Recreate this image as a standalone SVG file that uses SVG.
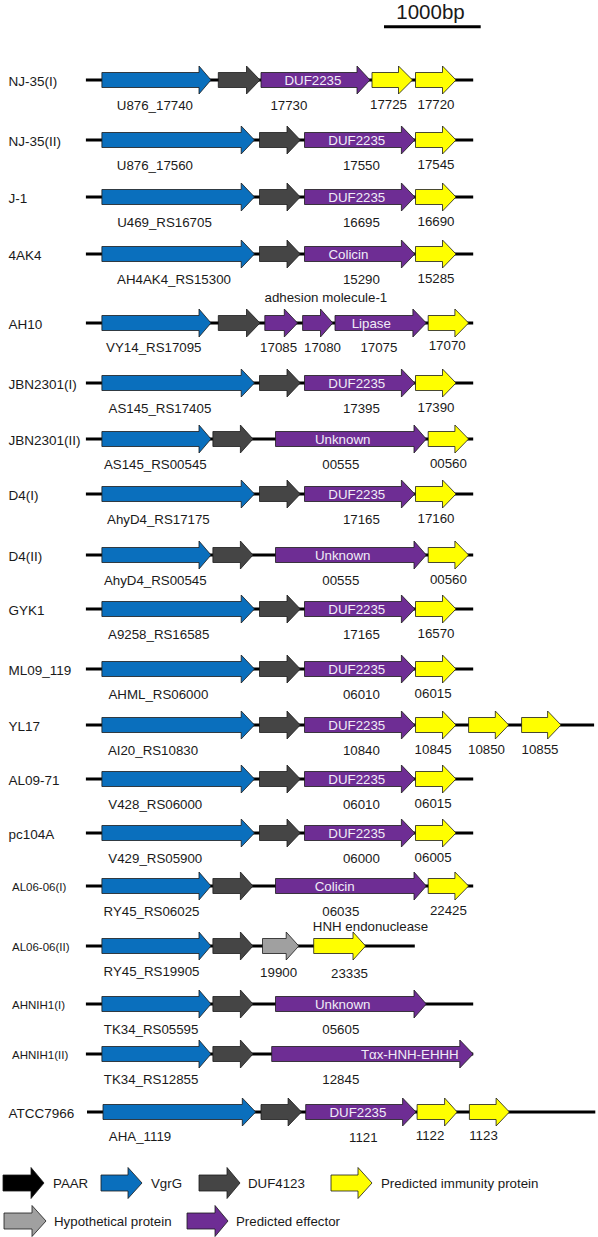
<svg xmlns="http://www.w3.org/2000/svg" width="598" height="1237" viewBox="0 0 598 1237">
<style>
text{font-family:"Liberation Sans",Arial,sans-serif;fill:#1a1a1a}
.rl{font-size:13.5px}
.lg{font-size:13.3px}
.sl{font-size:11.5px}
.gl{font-size:13.3px;text-anchor:middle}
.in{font-size:13.3px;text-anchor:middle;fill:#f1ecf7}
.bb{stroke:#000;stroke-width:3;fill:none}
path{stroke:#1a1a1a;stroke-width:0.8}
.b{fill:#0a6fbd}
.g{fill:#454545}
.p{fill:#6e2d94}
.y{fill:#ffff00}
.h{fill:#a0a0a0}
.k{fill:#000}
</style>
<g id="scalebar">
<line x1="384" y1="26.7" x2="480.7" y2="26.7" stroke="#000" stroke-width="3"/>
<text x="430.5" y="18.8" style="font-size:20.5px;text-anchor:middle">1000bp</text>
</g>
<g id="backbones">
<line class="bb" x1="85.9" y1="80" x2="473.2" y2="80"/>
<line class="bb" x1="85.9" y1="140" x2="473.2" y2="140"/>
<line class="bb" x1="85.9" y1="197" x2="473.2" y2="197"/>
<line class="bb" x1="85.9" y1="254" x2="473.2" y2="254"/>
<line class="bb" x1="85.9" y1="323" x2="473.2" y2="323"/>
<line class="bb" x1="85.9" y1="383" x2="473.2" y2="383"/>
<line class="bb" x1="85.9" y1="439" x2="473.2" y2="439"/>
<line class="bb" x1="85.9" y1="494" x2="473.2" y2="494"/>
<line class="bb" x1="85.9" y1="555" x2="473.2" y2="555"/>
<line class="bb" x1="85.9" y1="609" x2="473.2" y2="609"/>
<line class="bb" x1="85.9" y1="669" x2="473.2" y2="669"/>
<line class="bb" x1="85.9" y1="725" x2="594.1" y2="725"/>
<line class="bb" x1="85.9" y1="779" x2="473.2" y2="779"/>
<line class="bb" x1="85.9" y1="833" x2="473.2" y2="833"/>
<line class="bb" x1="85.9" y1="886" x2="473.2" y2="886"/>
<line class="bb" x1="85.9" y1="946" x2="414.8" y2="946"/>
<line class="bb" x1="85.9" y1="1004" x2="473.2" y2="1004"/>
<line class="bb" x1="85.9" y1="1054" x2="473.2" y2="1054"/>
<line class="bb" x1="87" y1="1112" x2="595.3" y2="1112"/>
</g>

<g id="row-NJ-35-I" transform="translate(0,80)">
<text class="rl" x="8.5" y="6">NJ-35(I)</text>
<path class="b" d="M101.9 -7.5H199V-14L211 0L199 14V7.5H101.9Z"/>
<path class="g" d="M218.3 -7.5H246.5V-14L260 0L246.5 14V7.5H218.3Z"/>
<path class="p" d="M261 -7.5H357V-14L370 0L357 14V7.5H261Z"/>
<path class="y" d="M372 -7.5H398.5V-14L412.5 0L398.5 14V7.5H372Z"/>
<path class="y" d="M415.5 -7.5H442.5V-14L456 0L442.5 14V7.5H415.5Z"/>
<text class="in" x="312.9" y="5">DUF2235</text>
<text class="gl" x="154.9" y="30">U876_17740</text>
<text class="gl" x="288.9" y="30">17730</text>
<text class="gl" x="388.5" y="29">17725</text>
<text class="gl" x="436" y="29">17720</text>
</g>

<g id="row-NJ-35-II" transform="translate(0,140)">
<text class="rl" x="8.5" y="6">NJ-35(II)</text>
<path class="b" d="M101.9 -7.5H241.2V-14L254.5 0L241.2 14V7.5H101.9Z"/>
<path class="g" d="M259.5 -7.5H287V-14L300.3 0L287 14V7.5H259.5Z"/>
<path class="p" d="M304.5 -7.5H401.4V-14L414.8 0L401.4 14V7.5H304.5Z"/>
<path class="y" d="M415.5 -7.5H442.5V-14L456 0L442.5 14V7.5H415.5Z"/>
<text class="in" x="356.8" y="5">DUF2235</text>
<text class="gl" x="154.9" y="30">U876_17560</text>
<text class="gl" x="361.4" y="30">17550</text>
<text class="gl" x="436" y="29">17545</text>
</g>

<g id="row-J-1" transform="translate(0,197)">
<text class="rl" x="8.5" y="6">J-1</text>
<path class="b" d="M101.9 -7.5H241.2V-14L254.5 0L241.2 14V7.5H101.9Z"/>
<path class="g" d="M259.5 -7.5H287V-14L300.3 0L287 14V7.5H259.5Z"/>
<path class="p" d="M304.5 -7.5H401.4V-14L414.8 0L401.4 14V7.5H304.5Z"/>
<path class="y" d="M415.5 -7.5H442.5V-14L456 0L442.5 14V7.5H415.5Z"/>
<text class="in" x="356.8" y="5">DUF2235</text>
<text class="gl" x="164.5" y="30">U469_RS16705</text>
<text class="gl" x="361.4" y="30">16695</text>
<text class="gl" x="436" y="29">16690</text>
</g>

<g id="row-4AK4" transform="translate(0,254)">
<text class="rl" x="8.5" y="6">4AK4</text>
<path class="b" d="M101.9 -7.5H241.2V-14L254.5 0L241.2 14V7.5H101.9Z"/>
<path class="g" d="M259.5 -7.5H287V-14L300.3 0L287 14V7.5H259.5Z"/>
<path class="p" d="M304.5 -7.5H401.4V-14L414.8 0L401.4 14V7.5H304.5Z"/>
<path class="y" d="M415.5 -7.5H442.5V-14L456 0L442.5 14V7.5H415.5Z"/>
<text class="in" x="348.4" y="5">Colicin</text>
<text class="gl" x="174" y="30">AH4AK4_RS15300</text>
<text class="gl" x="361.4" y="30">15290</text>
<text class="gl" x="436" y="29">15285</text>
</g>

<g id="row-AH10" transform="translate(0,323)">
<text class="rl" x="8.5" y="6">AH10</text>
<text class="gl" x="325.9" y="-21">adhesion molecule-1</text>
<path class="b" d="M101.9 -7.5H199V-14L211 0L199 14V7.5H101.9Z"/>
<path class="g" d="M218.3 -7.5H246.5V-14L260 0L246.5 14V7.5H218.3Z"/>
<path class="p" d="M264.8 -7.5H284.3V-14L297.6 0L284.3 14V7.5H264.8Z"/>
<path class="p" d="M302.6 -7.5H320.5V-14L332.8 0L320.5 14V7.5H302.6Z"/>
<path class="p" d="M335 -7.5H412.9V-14L426.3 0L412.9 14V7.5H335Z"/>
<path class="y" d="M428.2 -7.5H454.9V-14L468.6 0L454.9 14V7.5H428.2Z"/>
<text class="in" x="371.3" y="5">Lipase</text>
<text class="gl" x="153.8" y="29">VY14_RS17095</text>
<text class="gl" x="278.6" y="29">17085</text>
<text class="gl" x="322.5" y="29">17080</text>
<text class="gl" x="378.9" y="29">17075</text>
<text class="gl" x="447.2" y="27">17070</text>
</g>

<g id="row-JBN2301-I" transform="translate(0,383)">
<text class="rl" x="8.5" y="6">JBN2301(I)</text>
<path class="b" d="M101.9 -7.5H241.2V-14L254.5 0L241.2 14V7.5H101.9Z"/>
<path class="g" d="M259.5 -7.5H287V-14L300.3 0L287 14V7.5H259.5Z"/>
<path class="p" d="M304.5 -7.5H401.4V-14L414.8 0L401.4 14V7.5H304.5Z"/>
<path class="y" d="M415.5 -7.5H442.5V-14L456 0L442.5 14V7.5H415.5Z"/>
<text class="in" x="356.8" y="5">DUF2235</text>
<text class="gl" x="159.9" y="30">AS145_RS17405</text>
<text class="gl" x="361.4" y="30">17395</text>
<text class="gl" x="436" y="29">17390</text>
</g>

<g id="row-JBN2301-II" transform="translate(0,439)">
<text class="rl" x="8.5" y="6">JBN2301(II)</text>
<path class="b" d="M101.9 -7.5H199V-14L211 0L199 14V7.5H101.9Z"/>
<path class="g" d="M212.9 -7.5H240.4V-14L253 0L240.4 14V7.5H212.9Z"/>
<path class="p" d="M275.5 -7.5H414V-14L426.3 0L414 14V7.5H275.5Z"/>
<path class="y" d="M428.2 -7.5H454.9V-14L468.6 0L454.9 14V7.5H428.2Z"/>
<text class="in" x="342.7" y="5">Unknown</text>
<text class="gl" x="155.3" y="30">AS145_RS00545</text>
<text class="gl" x="340.8" y="30">00555</text>
<text class="gl" x="448.4" y="29">00560</text>
</g>

<g id="row-D4-I" transform="translate(0,494)">
<text class="rl" x="8.5" y="6">D4(I)</text>
<path class="b" d="M101.9 -7.5H241.2V-14L254.5 0L241.2 14V7.5H101.9Z"/>
<path class="g" d="M259.5 -7.5H287V-14L300.3 0L287 14V7.5H259.5Z"/>
<path class="p" d="M304.5 -7.5H401.4V-14L414.8 0L401.4 14V7.5H304.5Z"/>
<path class="y" d="M415.5 -7.5H442.5V-14L456 0L442.5 14V7.5H415.5Z"/>
<text class="in" x="356.8" y="5">DUF2235</text>
<text class="gl" x="158.4" y="30">AhyD4_RS17175</text>
<text class="gl" x="361.4" y="30">17165</text>
<text class="gl" x="436" y="29">17160</text>
</g>

<g id="row-D4-II" transform="translate(0,555)">
<text class="rl" x="8.5" y="6">D4(II)</text>
<path class="b" d="M101.9 -7.5H199V-14L211 0L199 14V7.5H101.9Z"/>
<path class="g" d="M212.9 -7.5H240.4V-14L253 0L240.4 14V7.5H212.9Z"/>
<path class="p" d="M275.5 -7.5H414V-14L426.3 0L414 14V7.5H275.5Z"/>
<path class="y" d="M428.2 -7.5H454.9V-14L468.6 0L454.9 14V7.5H428.2Z"/>
<text class="in" x="342.7" y="5">Unknown</text>
<text class="gl" x="155.3" y="30">AhyD4_RS00545</text>
<text class="gl" x="340.8" y="30">00555</text>
<text class="gl" x="448.4" y="29">00560</text>
</g>

<g id="row-GYK1" transform="translate(0,609)">
<text class="rl" x="8.5" y="6">GYK1</text>
<path class="b" d="M101.9 -7.5H241.2V-14L254.5 0L241.2 14V7.5H101.9Z"/>
<path class="g" d="M259.5 -7.5H287V-14L300.3 0L287 14V7.5H259.5Z"/>
<path class="p" d="M304.5 -7.5H401.4V-14L414.8 0L401.4 14V7.5H304.5Z"/>
<path class="y" d="M415.5 -7.5H442.5V-14L456 0L442.5 14V7.5H415.5Z"/>
<text class="in" x="356.8" y="5">DUF2235</text>
<text class="gl" x="158.7" y="30">A9258_RS16585</text>
<text class="gl" x="361.4" y="30">17165</text>
<text class="gl" x="436" y="29">16570</text>
</g>

<g id="row-ML09_119" transform="translate(0,669)">
<text class="rl" x="8.5" y="6">ML09_119</text>
<path class="b" d="M101.9 -7.5H241.2V-14L254.5 0L241.2 14V7.5H101.9Z"/>
<path class="g" d="M259.5 -7.5H287V-14L300.3 0L287 14V7.5H259.5Z"/>
<path class="p" d="M304.5 -7.5H401.4V-14L414.8 0L401.4 14V7.5H304.5Z"/>
<path class="y" d="M415.5 -7.5H442.5V-14L456 0L442.5 14V7.5H415.5Z"/>
<text class="in" x="356.8" y="5">DUF2235</text>
<text class="gl" x="158.4" y="30">AHML_RS06000</text>
<text class="gl" x="361.4" y="30">06010</text>
<text class="gl" x="433.1" y="29">06015</text>
</g>

<g id="row-YL17" transform="translate(0,725)">
<text class="rl" x="8.5" y="6">YL17</text>
<path class="b" d="M101.9 -7.5H241.2V-14L254.5 0L241.2 14V7.5H101.9Z"/>
<path class="g" d="M259.5 -7.5H287V-14L300.3 0L287 14V7.5H259.5Z"/>
<path class="p" d="M304.5 -7.5H401.4V-14L414.8 0L401.4 14V7.5H304.5Z"/>
<path class="y" d="M415.5 -7.5H442.5V-14L456 0L442.5 14V7.5H415.5Z"/>
<path class="y" d="M468.6 -7.5H495.3V-14L508.7 0L495.3 14V7.5H468.6Z"/>
<path class="y" d="M521.6 -7.5H547.6V-14L561 0L547.6 14V7.5H521.6Z"/>
<text class="in" x="356.8" y="5">DUF2235</text>
<text class="gl" x="153" y="30">AI20_RS10830</text>
<text class="gl" x="361.4" y="30">10840</text>
<text class="gl" x="433.1" y="29">10845</text>
<text class="gl" x="486.5" y="29">10850</text>
<text class="gl" x="540" y="29">10855</text>
</g>

<g id="row-AL09-71" transform="translate(0,779)">
<text class="rl" x="8.5" y="6">AL09-71</text>
<path class="b" d="M101.9 -7.5H241.2V-14L254.5 0L241.2 14V7.5H101.9Z"/>
<path class="g" d="M259.5 -7.5H287V-14L300.3 0L287 14V7.5H259.5Z"/>
<path class="p" d="M304.5 -7.5H401.4V-14L414.8 0L401.4 14V7.5H304.5Z"/>
<path class="y" d="M415.5 -7.5H442.5V-14L456 0L442.5 14V7.5H415.5Z"/>
<text class="in" x="356.8" y="5">DUF2235</text>
<text class="gl" x="155.3" y="30">V428_RS06000</text>
<text class="gl" x="361.4" y="30">06010</text>
<text class="gl" x="433.1" y="29">06015</text>
</g>

<g id="row-pc104A" transform="translate(0,833)">
<text class="rl" x="8.5" y="6">pc104A</text>
<path class="b" d="M101.9 -7.5H241.2V-14L254.5 0L241.2 14V7.5H101.9Z"/>
<path class="g" d="M259.5 -7.5H287V-14L300.3 0L287 14V7.5H259.5Z"/>
<path class="p" d="M304.5 -7.5H401.4V-14L414.8 0L401.4 14V7.5H304.5Z"/>
<path class="y" d="M415.5 -7.5H442.5V-14L456 0L442.5 14V7.5H415.5Z"/>
<text class="in" x="356.8" y="5">DUF2235</text>
<text class="gl" x="155.3" y="30">V429_RS05900</text>
<text class="gl" x="361.4" y="30">06000</text>
<text class="gl" x="433.1" y="29">06005</text>
</g>

<g id="row-AL06-06-I" transform="translate(0,886)">
<text class="sl" x="12" y="4.5">AL06-06(I)</text>
<path class="b" d="M101.9 -7.5H199V-14L211 0L199 14V7.5H101.9Z"/>
<path class="g" d="M212.9 -7.5H240.4V-14L253 0L240.4 14V7.5H212.9Z"/>
<path class="p" d="M275.5 -7.5H414V-14L426.3 0L414 14V7.5H275.5Z"/>
<path class="y" d="M428.2 -7.5H454.9V-14L468.6 0L454.9 14V7.5H428.2Z"/>
<text class="in" x="334.7" y="5">Colicin</text>
<text class="gl" x="151.5" y="30">RY45_RS06025</text>
<text class="gl" x="340.8" y="30">06035</text>
<text class="gl" x="448.4" y="29">22425</text>
</g>

<g id="row-AL06-06-II" transform="translate(0,946)">
<text class="sl" x="12" y="4.5">AL06-06(II)</text>
<text class="gl" x="370.5" y="-15">HNH endonuclease</text>
<path class="b" d="M101.9 -7.5H199V-14L211 0L199 14V7.5H101.9Z"/>
<path class="g" d="M212.9 -7.5H240.4V-14L253 0L240.4 14V7.5H212.9Z"/>
<path class="h" d="M262.5 -7.5H286.2V-14L298.8 0L286.2 14V7.5H262.5Z"/>
<path class="y" d="M313.7 -7.5H353V-14L365.6 0L353 14V7.5H313.7Z"/>
<text class="gl" x="151.5" y="30">RY45_RS19905</text>
<text class="gl" x="278.6" y="31">19900</text>
<text class="gl" x="349.5" y="32">23335</text>
</g>

<g id="row-AHNIH1-I" transform="translate(0,1004)">
<text class="sl" x="12" y="4.5">AHNIH1(I)</text>
<path class="b" d="M101.9 -7.5H199V-14L211 0L199 14V7.5H101.9Z"/>
<path class="g" d="M212.9 -7.5H240.4V-14L253 0L240.4 14V7.5H212.9Z"/>
<path class="p" d="M275.5 -7.5H414V-14L426.3 0L414 14V7.5H275.5Z"/>
<text class="in" x="342.7" y="5">Unknown</text>
<text class="gl" x="151.1" y="30">TK34_RS05595</text>
<text class="gl" x="340.8" y="30">05605</text>
</g>

<g id="row-AHNIH1-II" transform="translate(0,1054)">
<text class="sl" x="12" y="4.5">AHNIH1(II)</text>
<path class="b" d="M101.9 -7.5H199V-14L211 0L199 14V7.5H101.9Z"/>
<path class="g" d="M212.9 -7.5H240.4V-14L253 0L240.4 14V7.5H212.9Z"/>
<path class="p" d="M271.7 -7.5H459.8V-14L473.2 0L459.8 14V7.5H271.7Z"/>
<text class="in" x="409.8" y="5">Tαx-HNH-EHHH</text>
<text class="gl" x="151.1" y="30">TK34_RS12855</text>
<text class="gl" x="340.8" y="30">12845</text>
</g>

<g id="row-ATCC7966" transform="translate(0,1112)">
<text class="rl" x="8.5" y="6">ATCC7966</text>
<path class="b" d="M103 -7.5H242.3V-14L255.7 0L242.3 14V7.5H103Z"/>
<path class="g" d="M261 -7.5H288.1V-14L301.5 0L288.1 14V7.5H261Z"/>
<path class="p" d="M305.7 -7.5H402.6V-14L416 0L402.6 14V7.5H305.7Z"/>
<path class="y" d="M417.1 -7.5H444.6V-14L457.2 0L444.6 14V7.5H417.1Z"/>
<path class="y" d="M469.4 -7.5H496.1V-14L509.4 0L496.1 14V7.5H469.4Z"/>
<text class="in" x="357.9" y="5">DUF2235</text>
<text class="gl" x="140" y="29">AHA_1119</text>
<text class="gl" x="363.3" y="30">1121</text>
<text class="gl" x="430.1" y="28">1122</text>
<text class="gl" x="483.5" y="28">1123</text>
</g>

<g id="legend">
<path class="k" d="M3 1175H31V1167.5L44 1183L31 1198.5V1191H3Z"/>
<text class="lg" x="53" y="1187.5">PAAR</text>
<path class="b" d="M101 1175H128V1167.5L142 1183L128 1198.5V1191H101Z"/>
<text class="lg" x="151" y="1187.5">VgrG</text>
<path class="g" d="M199 1175H227V1167.5L240 1183L227 1198.5V1191H199Z"/>
<text class="lg" x="248" y="1187.5">DUF4123</text>
<path class="y" d="M331 1175H358V1167.5L372 1183L358 1198.5V1191H331Z"/>
<text class="lg" x="381" y="1187.5">Predicted immunity protein</text>
<path class="h" d="M4 1213H32V1205.5L46 1221L32 1236.5V1229H4Z"/>
<text class="lg" x="54" y="1225.5">Hypothetical protein</text>
<path class="p" d="M187 1213H215V1205.5L228 1221L215 1236.5V1229H187Z"/>
<text class="lg" x="236" y="1225.5">Predicted effector</text>
</g>
</svg>
